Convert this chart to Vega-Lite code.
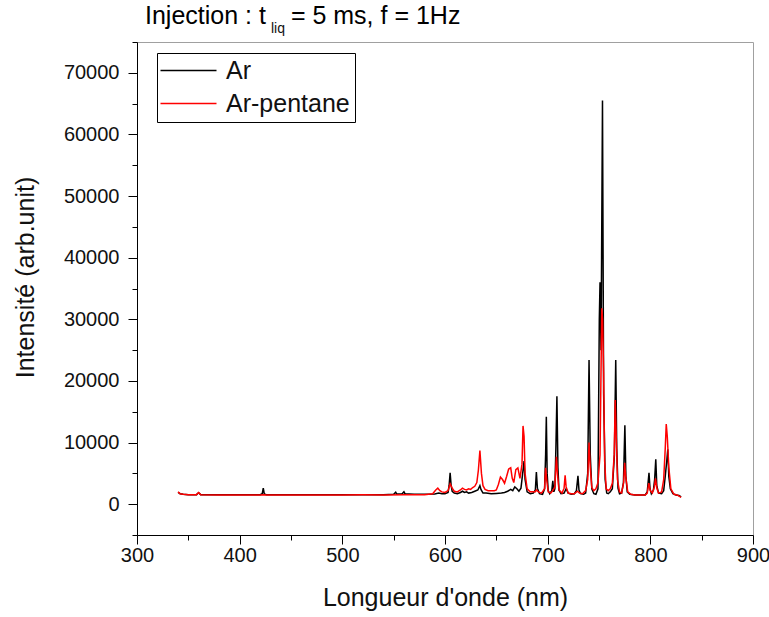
{
  "$schema": "https://vega.github.io/schema/vega-lite/v6.json",
  "width": 616,
  "height": 493,
  "autosize": {"type": "none"},
  "padding": {"left": 137, "top": 42, "right": 16, "bottom": 82},
  "background": "white",
  "config": {
    "font": "Liberation Sans",
    "view": {"stroke": "#a0a0a0", "strokeWidth": 1}
  },
  "title": {
    "text": "Injection : t\u2003= 5 ms, f = 1Hz",
    "anchor": "start",
    "frame": "group",
    "dx": 8,
    "offset": -27,
    "baseline": "alphabetic",
    "font": "Liberation Sans",
    "fontSize": 25,
    "fontWeight": "normal",
    "color": "black"
  },
  "resolve": {"axis": {"x": "independent", "y": "independent"}},
  "datasets": {
    "spec": [
      {"x":340,"y":1900,"s":"Ar"},{"x":342,"y":1700,"s":"Ar"},{"x":345,"y":1600,"s":"Ar"},{"x":350,"y":1550,"s":"Ar"},{"x":358,"y":1550,"s":"Ar"},{"x":360,"y":1850,"s":"Ar"},{"x":362,"y":1550,"s":"Ar"},{"x":380,"y":1550,"s":"Ar"},{"x":400,"y":1550,"s":"Ar"},{"x":420,"y":1550,"s":"Ar"},{"x":422,"y":1700,"s":"Ar"},{"x":423,"y":2600,"s":"Ar"},{"x":424,"y":1650,"s":"Ar"},{"x":426,"y":1550,"s":"Ar"},{"x":450,"y":1550,"s":"Ar"},{"x":480,"y":1550,"s":"Ar"},{"x":500,"y":1550,"s":"Ar"},{"x":520,"y":1550,"s":"Ar"},{"x":540,"y":1550,"s":"Ar"},{"x":550,"y":1600,"s":"Ar"},{"x":552,"y":1950,"s":"Ar"},{"x":553,"y":1650,"s":"Ar"},{"x":558,"y":1650,"s":"Ar"},{"x":560,"y":2000,"s":"Ar"},{"x":561,"y":1700,"s":"Ar"},{"x":565,"y":1650,"s":"Ar"},{"x":570,"y":1600,"s":"Ar"},{"x":580,"y":1600,"s":"Ar"},{"x":590,"y":1650,"s":"Ar"},{"x":594,"y":1800,"s":"Ar"},{"x":597,"y":1700,"s":"Ar"},{"x":600,"y":1700,"s":"Ar"},{"x":603,"y":1900,"s":"Ar"},{"x":604,"y":3000,"s":"Ar"},{"x":605,"y":5100,"s":"Ar"},{"x":606,"y":3000,"s":"Ar"},{"x":607,"y":2100,"s":"Ar"},{"x":609,"y":1800,"s":"Ar"},{"x":612,"y":1700,"s":"Ar"},{"x":615,"y":1900,"s":"Ar"},{"x":617,"y":2100,"s":"Ar"},{"x":619,"y":1900,"s":"Ar"},{"x":621,"y":2000,"s":"Ar"},{"x":623,"y":1800,"s":"Ar"},{"x":626,"y":1900,"s":"Ar"},{"x":629,"y":2100,"s":"Ar"},{"x":632,"y":2300,"s":"Ar"},{"x":634,"y":3000,"s":"Ar"},{"x":635,"y":2400,"s":"Ar"},{"x":637,"y":1800,"s":"Ar"},{"x":640,"y":1800,"s":"Ar"},{"x":645,"y":1700,"s":"Ar"},{"x":650,"y":1750,"s":"Ar"},{"x":655,"y":1800,"s":"Ar"},{"x":658,"y":1900,"s":"Ar"},{"x":661,"y":2100,"s":"Ar"},{"x":664,"y":2400,"s":"Ar"},{"x":666,"y":2200,"s":"Ar"},{"x":668,"y":2800,"s":"Ar"},{"x":670,"y":2500,"s":"Ar"},{"x":672,"y":2100,"s":"Ar"},{"x":674,"y":2600,"s":"Ar"},{"x":676,"y":5500,"s":"Ar"},{"x":677,"y":7000,"s":"Ar"},{"x":678,"y":4000,"s":"Ar"},{"x":680,"y":2000,"s":"Ar"},{"x":683,"y":1700,"s":"Ar"},{"x":686,"y":1800,"s":"Ar"},{"x":688,"y":2300,"s":"Ar"},{"x":689,"y":5200,"s":"Ar"},{"x":690,"y":2600,"s":"Ar"},{"x":692,"y":1700,"s":"Ar"},{"x":695,"y":1600,"s":"Ar"},{"x":697,"y":2500,"s":"Ar"},{"x":698,"y":8000,"s":"Ar"},{"x":698.7,"y":14200,"s":"Ar"},{"x":699.5,"y":5000,"s":"Ar"},{"x":700.5,"y":2200,"s":"Ar"},{"x":702,"y":1700,"s":"Ar"},{"x":704,"y":2200,"s":"Ar"},{"x":705,"y":3800,"s":"Ar"},{"x":706,"y":2000,"s":"Ar"},{"x":707,"y":2500,"s":"Ar"},{"x":708,"y":9000,"s":"Ar"},{"x":709,"y":17500,"s":"Ar"},{"x":710,"y":6000,"s":"Ar"},{"x":711,"y":2300,"s":"Ar"},{"x":713,"y":1700,"s":"Ar"},{"x":716,"y":1800,"s":"Ar"},{"x":718,"y":2500,"s":"Ar"},{"x":720,"y":1800,"s":"Ar"},{"x":723,"y":1600,"s":"Ar"},{"x":726,"y":1700,"s":"Ar"},{"x":728,"y":2200,"s":"Ar"},{"x":729.5,"y":4600,"s":"Ar"},{"x":730.5,"y":2300,"s":"Ar"},{"x":732,"y":1700,"s":"Ar"},{"x":735,"y":1600,"s":"Ar"},{"x":737,"y":1800,"s":"Ar"},{"x":739,"y":5000,"s":"Ar"},{"x":740.3,"y":23400,"s":"Ar"},{"x":741.5,"y":8000,"s":"Ar"},{"x":743,"y":2500,"s":"Ar"},{"x":745,"y":1700,"s":"Ar"},{"x":747,"y":1600,"s":"Ar"},{"x":749,"y":2500,"s":"Ar"},{"x":750.3,"y":30000,"s":"Ar"},{"x":751,"y":36000,"s":"Ar"},{"x":752,"y":25000,"s":"Ar"},{"x":753.4,"y":65500,"s":"Ar"},{"x":754.5,"y":18000,"s":"Ar"},{"x":756,"y":4000,"s":"Ar"},{"x":757.5,"y":1800,"s":"Ar"},{"x":759,"y":1700,"s":"Ar"},{"x":761,"y":2000,"s":"Ar"},{"x":763,"y":2500,"s":"Ar"},{"x":765,"y":8000,"s":"Ar"},{"x":766.3,"y":23400,"s":"Ar"},{"x":767.3,"y":9000,"s":"Ar"},{"x":768.5,"y":2600,"s":"Ar"},{"x":770,"y":1700,"s":"Ar"},{"x":772,"y":1800,"s":"Ar"},{"x":773.8,"y":3500,"s":"Ar"},{"x":775.2,"y":12800,"s":"Ar"},{"x":776.2,"y":4500,"s":"Ar"},{"x":777.5,"y":2000,"s":"Ar"},{"x":780,"y":1600,"s":"Ar"},{"x":785,"y":1500,"s":"Ar"},{"x":790,"y":1500,"s":"Ar"},{"x":795,"y":1500,"s":"Ar"},{"x":797,"y":2000,"s":"Ar"},{"x":798.7,"y":5100,"s":"Ar"},{"x":799.7,"y":2500,"s":"Ar"},{"x":801,"y":1700,"s":"Ar"},{"x":803,"y":2300,"s":"Ar"},{"x":804.2,"y":4000,"s":"Ar"},{"x":805.3,"y":7300,"s":"Ar"},{"x":806.3,"y":3000,"s":"Ar"},{"x":808,"y":1800,"s":"Ar"},{"x":811,"y":1700,"s":"Ar"},{"x":813,"y":2200,"s":"Ar"},{"x":814.5,"y":4500,"s":"Ar"},{"x":816,"y":7000,"s":"Ar"},{"x":817,"y":8900,"s":"Ar"},{"x":818,"y":4500,"s":"Ar"},{"x":819.5,"y":2500,"s":"Ar"},{"x":822,"y":1700,"s":"Ar"},{"x":825,"y":1500,"s":"Ar"},{"x":828,"y":1400,"s":"Ar"},{"x":830,"y":1200,"s":"Ar"},
      {"x":340,"y":2000,"s":"Ar-pentane"},{"x":342,"y":1700,"s":"Ar-pentane"},{"x":345,"y":1600,"s":"Ar-pentane"},{"x":350,"y":1550,"s":"Ar-pentane"},{"x":358,"y":1550,"s":"Ar-pentane"},{"x":360,"y":1900,"s":"Ar-pentane"},{"x":362,"y":1550,"s":"Ar-pentane"},{"x":380,"y":1500,"s":"Ar-pentane"},{"x":400,"y":1500,"s":"Ar-pentane"},{"x":420,"y":1500,"s":"Ar-pentane"},{"x":423,"y":1550,"s":"Ar-pentane"},{"x":426,"y":1500,"s":"Ar-pentane"},{"x":450,"y":1500,"s":"Ar-pentane"},{"x":480,"y":1500,"s":"Ar-pentane"},{"x":500,"y":1500,"s":"Ar-pentane"},{"x":520,"y":1520,"s":"Ar-pentane"},{"x":540,"y":1500,"s":"Ar-pentane"},{"x":560,"y":1550,"s":"Ar-pentane"},{"x":580,"y":1550,"s":"Ar-pentane"},{"x":588,"y":1700,"s":"Ar-pentane"},{"x":591,"y":2300,"s":"Ar-pentane"},{"x":593,"y":2600,"s":"Ar-pentane"},{"x":595,"y":2200,"s":"Ar-pentane"},{"x":597,"y":2000,"s":"Ar-pentane"},{"x":600,"y":1900,"s":"Ar-pentane"},{"x":603,"y":2200,"s":"Ar-pentane"},{"x":605,"y":3300,"s":"Ar-pentane"},{"x":607,"y":2600,"s":"Ar-pentane"},{"x":609,"y":2100,"s":"Ar-pentane"},{"x":612,"y":2000,"s":"Ar-pentane"},{"x":615,"y":2300,"s":"Ar-pentane"},{"x":617,"y":2600,"s":"Ar-pentane"},{"x":619,"y":2400,"s":"Ar-pentane"},{"x":621,"y":2300,"s":"Ar-pentane"},{"x":623,"y":2500,"s":"Ar-pentane"},{"x":625,"y":2400,"s":"Ar-pentane"},{"x":627,"y":2700,"s":"Ar-pentane"},{"x":629,"y":2900,"s":"Ar-pentane"},{"x":631,"y":3500,"s":"Ar-pentane"},{"x":632.5,"y":5500,"s":"Ar-pentane"},{"x":634,"y":8700,"s":"Ar-pentane"},{"x":635.5,"y":5000,"s":"Ar-pentane"},{"x":637,"y":3000,"s":"Ar-pentane"},{"x":639,"y":2400,"s":"Ar-pentane"},{"x":642,"y":2200,"s":"Ar-pentane"},{"x":645,"y":2200,"s":"Ar-pentane"},{"x":648,"y":2200,"s":"Ar-pentane"},{"x":650,"y":2300,"s":"Ar-pentane"},{"x":652,"y":3200,"s":"Ar-pentane"},{"x":654,"y":4400,"s":"Ar-pentane"},{"x":656,"y":4000,"s":"Ar-pentane"},{"x":658,"y":3400,"s":"Ar-pentane"},{"x":660,"y":4500,"s":"Ar-pentane"},{"x":662,"y":5700,"s":"Ar-pentane"},{"x":664,"y":5900,"s":"Ar-pentane"},{"x":665.5,"y":4200,"s":"Ar-pentane"},{"x":667,"y":3500,"s":"Ar-pentane"},{"x":669,"y":5600,"s":"Ar-pentane"},{"x":671,"y":5900,"s":"Ar-pentane"},{"x":673,"y":4200,"s":"Ar-pentane"},{"x":675,"y":6500,"s":"Ar-pentane"},{"x":676,"y":12700,"s":"Ar-pentane"},{"x":677,"y":11000,"s":"Ar-pentane"},{"x":678,"y":5000,"s":"Ar-pentane"},{"x":680,"y":2500,"s":"Ar-pentane"},{"x":683,"y":2000,"s":"Ar-pentane"},{"x":686,"y":2000,"s":"Ar-pentane"},{"x":688,"y":2000,"s":"Ar-pentane"},{"x":689,"y":2300,"s":"Ar-pentane"},{"x":691,"y":2000,"s":"Ar-pentane"},{"x":694,"y":1800,"s":"Ar-pentane"},{"x":697,"y":2500,"s":"Ar-pentane"},{"x":698,"y":5900,"s":"Ar-pentane"},{"x":699,"y":4000,"s":"Ar-pentane"},{"x":700.5,"y":2000,"s":"Ar-pentane"},{"x":703,"y":1800,"s":"Ar-pentane"},{"x":705,"y":2200,"s":"Ar-pentane"},{"x":707,"y":2800,"s":"Ar-pentane"},{"x":708.5,"y":7700,"s":"Ar-pentane"},{"x":709.5,"y":5000,"s":"Ar-pentane"},{"x":711,"y":2300,"s":"Ar-pentane"},{"x":714,"y":1800,"s":"Ar-pentane"},{"x":716,"y":2600,"s":"Ar-pentane"},{"x":717,"y":4700,"s":"Ar-pentane"},{"x":718,"y":2800,"s":"Ar-pentane"},{"x":720,"y":1800,"s":"Ar-pentane"},{"x":723,"y":1700,"s":"Ar-pentane"},{"x":726,"y":1700,"s":"Ar-pentane"},{"x":729,"y":2100,"s":"Ar-pentane"},{"x":731,"y":1800,"s":"Ar-pentane"},{"x":734,"y":1700,"s":"Ar-pentane"},{"x":737,"y":2200,"s":"Ar-pentane"},{"x":739,"y":4000,"s":"Ar-pentane"},{"x":740.3,"y":10000,"s":"Ar-pentane"},{"x":741.5,"y":6000,"s":"Ar-pentane"},{"x":743,"y":2700,"s":"Ar-pentane"},{"x":745,"y":2200,"s":"Ar-pentane"},{"x":747,"y":2500,"s":"Ar-pentane"},{"x":749,"y":3500,"s":"Ar-pentane"},{"x":751,"y":8000,"s":"Ar-pentane"},{"x":752.7,"y":31800,"s":"Ar-pentane"},{"x":753.5,"y":30000,"s":"Ar-pentane"},{"x":754.5,"y":21500,"s":"Ar-pentane"},{"x":755.5,"y":7000,"s":"Ar-pentane"},{"x":757,"y":2500,"s":"Ar-pentane"},{"x":759,"y":2200,"s":"Ar-pentane"},{"x":761,"y":2500,"s":"Ar-pentane"},{"x":763,"y":3400,"s":"Ar-pentane"},{"x":764.8,"y":8000,"s":"Ar-pentane"},{"x":765.8,"y":16900,"s":"Ar-pentane"},{"x":766.8,"y":11000,"s":"Ar-pentane"},{"x":768,"y":4000,"s":"Ar-pentane"},{"x":770,"y":2000,"s":"Ar-pentane"},{"x":772,"y":1800,"s":"Ar-pentane"},{"x":774,"y":3500,"s":"Ar-pentane"},{"x":775,"y":6700,"s":"Ar-pentane"},{"x":776,"y":4500,"s":"Ar-pentane"},{"x":778,"y":2000,"s":"Ar-pentane"},{"x":781,"y":1600,"s":"Ar-pentane"},{"x":785,"y":1500,"s":"Ar-pentane"},{"x":790,"y":1500,"s":"Ar-pentane"},{"x":795,"y":1500,"s":"Ar-pentane"},{"x":797,"y":1800,"s":"Ar-pentane"},{"x":798.5,"y":3400,"s":"Ar-pentane"},{"x":800,"y":2200,"s":"Ar-pentane"},{"x":802,"y":1800,"s":"Ar-pentane"},{"x":804,"y":2800,"s":"Ar-pentane"},{"x":805,"y":4200,"s":"Ar-pentane"},{"x":806.5,"y":2500,"s":"Ar-pentane"},{"x":808,"y":1800,"s":"Ar-pentane"},{"x":811,"y":2000,"s":"Ar-pentane"},{"x":813,"y":4000,"s":"Ar-pentane"},{"x":814.5,"y":9000,"s":"Ar-pentane"},{"x":815.5,"y":13000,"s":"Ar-pentane"},{"x":816.5,"y":11000,"s":"Ar-pentane"},{"x":818,"y":6000,"s":"Ar-pentane"},{"x":820,"y":2500,"s":"Ar-pentane"},{"x":823,"y":1600,"s":"Ar-pentane"},{"x":826,"y":1500,"s":"Ar-pentane"},{"x":828,"y":1300,"s":"Ar-pentane"},{"x":830,"y":1100,"s":"Ar-pentane"}
    ],
    "sub": [{"t": "liq"}]
  },
  "data": {"name": "spec"},
  "layer": [
    {
      "transform": [{"filter": "datum.s === 'Ar'"}],
      "mark": {"type": "line", "strokeWidth": 1.5, "clip": true},
      "encoding": {
        "x": {
          "field": "x", "type": "quantitative",
          "scale": {"domain": [300, 900], "nice": false, "zero": false},
          "axis": {
            "orient": "bottom",
            "title": "Longueur d'onde (nm)",
            "values": [300,400,500,600,700,800,900],
            "tickSize": 9,
            "tickColor": "black", "domainColor": "black", "tickWidth": 1, "domainWidth": 1,
            "labelFont": "Liberation Sans", "labelFontSize": 20, "labelColor": "#111111",
            "labelPadding": 1, "labelFlush": false,
            "titleFont": "Liberation Sans", "titleFontSize": 25, "titleFontWeight": "normal", "titleColor": "#111111",
            "titlePadding": 20, "grid": false
          }
        },
        "y": {
          "field": "y", "type": "quantitative",
          "scale": {"domain": [-5000, 75000], "nice": false, "zero": false},
          "axis": {
            "orient": "left",
            "title": "Intensité (arb.unit)",
            "values": [0,10000,20000,30000,40000,50000,60000,70000],
            "format": "d",
            "tickSize": 9,
            "tickColor": "black", "domainColor": "black", "tickWidth": 1, "domainWidth": 1,
            "labelFont": "Liberation Sans", "labelFontSize": 20, "labelColor": "#111111",
            "labelPadding": 9, "labelFlush": false,
            "titleFont": "Liberation Sans", "titleFontSize": 25, "titleFontWeight": "normal", "titleColor": "#111111",
            "titleX": -99, "titleY": 235, "grid": false
          }
        },
        "color": {
          "field": "s", "type": "nominal",
          "scale": {"domain": ["Ar", "Ar-pentane"], "range": ["#000000", "#ff0000"]},
          "legend": {
            "title": null,
            "orient": "none",
            "legendX": 20,
            "legendY": 11,
            "direction": "vertical",
            "symbolType": "M-2,0H6",
            "symbolSize": 196,
            "symbolStrokeWidth": 1.5,
            "labelFont": "Liberation Sans",
            "labelFontSize": 25,
            "labelColor": "#111111",
            "labelOffset": 39,
            "rowPadding": 7,
            "padding": 5,
            "strokeColor": "black",
            "fillColor": "white"
          }
        }
      }
    },
    {
      "transform": [{"filter": "datum.s === 'Ar-pentane'"}],
      "mark": {"type": "line", "strokeWidth": 1.5, "clip": true},
      "encoding": {
        "x": {"field": "x", "type": "quantitative", "axis": null},
        "y": {"field": "y", "type": "quantitative", "axis": null},
        "color": {"field": "s", "type": "nominal"}
      }
    },
    {
      "data": {"name": "sub"},
      "mark": {"type": "point", "opacity": 0},
      "encoding": {
        "x": {"datum": 600, "type": "quantitative", "axis": {"orient": "bottom", "values": [350,450,550,650,750,850], "tickSize": 5, "tickColor": "black", "tickWidth": 1, "labels": false, "domain": false, "title": null, "grid": false}},
        "y": {"datum": 0, "type": "quantitative", "axis": {"orient": "left", "values": [-5000,5000,15000,25000,35000,45000,55000,65000,75000], "tickSize": 5, "tickColor": "black", "tickWidth": 1, "labels": false, "domain": false, "title": null, "grid": false}}
      }
    },
    {
      "data": {"name": "sub"},
      "mark": {"type": "text", "align": "left", "baseline": "alphabetic", "fontSize": 14, "font": "Liberation Sans", "color": "#111111", "clip": false},
      "encoding": {
        "text": {"field": "t"},
        "x": {"datum": 430.5, "type": "quantitative", "axis": null},
        "y": {"datum": 76460, "type": "quantitative", "axis": null}
      }
    }
  ]
}
